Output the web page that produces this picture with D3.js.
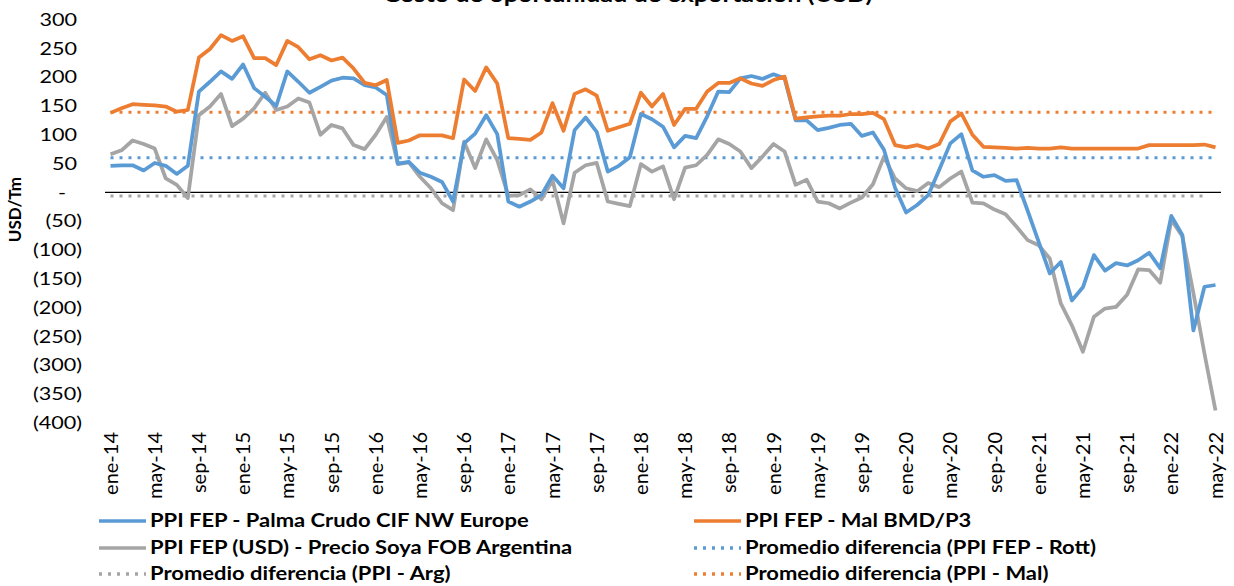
<!DOCTYPE html>
<html><head><meta charset="utf-8">
<script src="https://cdn.jsdelivr.net/npm/d3@7"></script>
<style>
body{margin:0;background:#fff}
svg{display:block}
text{font-family:Lato,'Open Sans',sans-serif;fill:#000}
</style>
</head><body>
<svg id="c" width="1234" height="586"></svg>
<script>
const monthNames = ["ene","feb","mar","abr","may","jun","jul","ago","sep","oct","nov","dic"];
const categories = d3.range(101).map(i => monthNames[i % 12] + "-" + (14 + Math.floor(i / 12)));
const tickLabels = ["ene-14","may-14","sep-14","ene-15","may-15","sep-15","ene-16","may-16","sep-16","ene-17","may-17","sep-17","ene-18","may-18","sep-18","ene-19","may-19","sep-19","ene-20","may-20","sep-20","ene-21","may-21","sep-21","ene-22","may-22"];
const yTicks = [300,250,200,150,100,50,0,-50,-100,-150,-200,-250,-300,-350,-400];

const palma = [46,47,47,38,51,46,32,46,175,192,210,197,222,181,166,150,210,192,173,183,
  194,199,198,186,182,169,50,53,34,27,18,-16,85,102,134,101,-16,-25,-16,-5,
  29,7,108,130,105,36,46,61,136,127,114,78,98,94,132,175,174,198,202,197,
  205,198,125,125,108,112,117,119,98,104,74,8,-35,-22,-5,39,85,101,38,27,
  30,20,21,-32,-86,-141,-121,-188,-165,-109,-136,-123,-127,-118,-105,-132,-41,-74,-240,-164,-161];
const mal = [138,146,153,152,151,149,140,143,234,249,273,263,271,233,233,221,263,252,231,238,
  229,234,215,190,186,195,86,90,99,99,99,94,196,176,217,189,94,93,91,104,
  155,107,171,179,168,107,113,119,173,149,171,117,145,145,175,190,190,198,189,185,
  195,201,128,130,132,133,133,136,136,138,127,82,78,82,76,84,123,137,100,79,
  78,77,76,77,76,76,78,76,76,76,76,76,76,76,82,82,82,82,82,83,78];
const soya = [66,73,90,84,76,24,13,-10,134,149,171,115,128,146,173,143,149,163,156,100,
  117,111,82,75,100,131,49,52,27,7,-19,-31,88,42,92,56,-6,-5,5,-12,
  21,-54,34,47,51,-16,-20,-24,49,36,45,-12,43,47,65,92,84,71,42,62,
  84,71,13,22,-16,-19,-28,-18,-9,14,62,24,7,2,16,9,24,36,-18,-19,
  -30,-38,-60,-83,-92,-115,-193,-231,-277,-216,-202,-199,-178,-134,-135,-157,-48,-76,-175,-280,-379];
const avgRott = 60, avgArg = -6.5, avgMal = 139;

const svg = d3.select("#c");
const x = d3.scalePoint().domain(categories).range([110.5, 1215.5]);
const y = d3.scaleLinear().domain([-400, 300]).range([422.6, 19.6]);

const colBlue = "#5b9bd5", colOrange = "#ed7d31", colGray = "#a5a5a5";

// text stretched horizontally like the reference
function sText(px, py, sx) {
  return svg.append("g").attr("transform", `translate(${px},${py}) scale(${sx},1)`).append("text");
}

// title (clipped at the top edge, as in the reference)
sText(628, 2, 1.2).attr("text-anchor", "middle")
  .style("font-size", "21px").style("font-weight", "bold")
  .text("Costo de oportunidad de exportación (USD)");

// y axis labels
yTicks.forEach(v => {
  let t;
  if (v > 0) t = sText(77, y(v), 1.2).attr("text-anchor", "end").text(v);
  else if (v === 0) t = sText(62, y(v), 1.2).attr("text-anchor", "middle").text("-");
  else t = sText(82, y(v), 1.2).attr("text-anchor", "end").text("(" + (-v) + ")");
  t.attr("dy", "0.35em").style("font-size", "18px");
});
svg.append("text").attr("transform", `translate(15,${y(-30)}) rotate(-90)`)
  .attr("text-anchor", "middle").attr("dy", "0.35em")
  .style("font-size", "17px").style("font-weight", "bold").text("USD/Tm");

// zero line
svg.append("line").attr("x1", 105).attr("x2", 1221).attr("y1", y(0)).attr("y2", y(0))
  .attr("stroke", "#000").attr("stroke-width", 1.2);

// x labels
tickLabels.forEach(l => {
  svg.append("text").attr("transform", `translate(${x(l)},432) rotate(-90)`)
    .attr("text-anchor", "end").attr("dy", "0.35em").style("font-size", "20px").text(l);
});

const line = d3.line().x((d, i) => x(categories[i])).y(d => y(d));
// average dotted lines
const dotted = "3,6";
svg.append("path").datum(categories.slice(0, 100).map(() => avgArg)).attr("d", line)
  .attr("fill", "none").attr("stroke", colGray).attr("stroke-width", 3).attr("stroke-dasharray", dotted);
svg.append("path").datum(categories.map(() => avgRott)).attr("d", line)
  .attr("fill", "none").attr("stroke", colBlue).attr("stroke-width", 3).attr("stroke-dasharray", dotted);
svg.append("path").datum(categories.map(() => avgMal)).attr("d", line)
  .attr("fill", "none").attr("stroke", colOrange).attr("stroke-width", 3).attr("stroke-dasharray", dotted);

[[soya, colGray], [palma, colBlue], [mal, colOrange]].forEach(([data, c]) => {
  svg.append("path").datum(data).attr("d", line).attr("fill", "none")
    .attr("stroke", c).attr("stroke-width", 3.75).attr("stroke-linejoin", "round");
});

// legend
const legend = [
  {label: "PPI FEP - Palma Crudo CIF NW Europe", color: colBlue, dash: null, x: 99, y: 521},
  {label: "PPI FEP - Mal BMD/P3", color: colOrange, dash: null, x: 694, y: 521},
  {label: "PPI FEP (USD) - Precio Soya FOB Argentina", color: colGray, dash: null, x: 99, y: 548},
  {label: "Promedio diferencia (PPI FEP - Rott)", color: colBlue, dash: dotted, x: 694, y: 548},
  {label: "Promedio diferencia (PPI - Arg)", color: colGray, dash: dotted, x: 99, y: 574},
  {label: "Promedio diferencia (PPI - Mal)", color: colOrange, dash: dotted, x: 694, y: 574}
];
legend.forEach(d => {
  svg.append("line").attr("x1", d.x).attr("x2", d.x + 47).attr("y1", d.y).attr("y2", d.y)
    .attr("stroke", d.color).attr("stroke-width", 3.5).attr("stroke-dasharray", d.dash);
  sText(d.x + 51, d.y, 1.22).attr("dy", "0.35em")
    .style("font-size", "18px").style("font-weight", "bold").text(d.label);
});
</script>
</body></html>
